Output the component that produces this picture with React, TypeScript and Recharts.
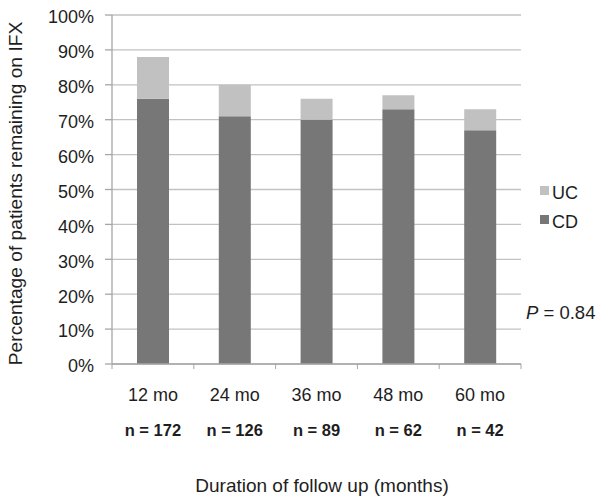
import React from 'react';
import { BarChart, Bar, XAxis, YAxis, CartesianGrid, Legend, Label } from 'recharts';

const categories = ['12 mo', '24 mo', '36 mo', '48 mo', '60 mo'];
const sampleSizes = ['n = 172', 'n = 126', 'n = 89', 'n = 62', 'n = 42'];
const cdValues = [76, 71, 70, 73, 67];
const ucValues = [12, 9, 6, 4, 6];
const yTicks = [0, 10, 20, 30, 40, 50, 60, 70, 80, 90, 100];

const data = categories.map((c, i) => ({ name: c, CD: cdValues[i], UC: ucValues[i] }));

const FONT = "'Liberation Sans', Arial, sans-serif";
const TEXT = '#1e1e1e';
const GRID = '#c2c2c2';
const AXIS = '#a6a6a6';
const CD_COLOR = '#777777';
const UC_COLOR = '#c1c1c1';

const XTick = (props: any) => {
  const { x, y, payload, index, width } = props;
  const band = (typeof width === 'number' && width > 0 ? width : 409) / categories.length;
  return (
    <g>
      <line x1={x - band / 2} x2={x - band / 2} y1={y} y2={y + 5} stroke={AXIS} strokeWidth={1} />
      {index === categories.length - 1 && (
        <line x1={x + band / 2} x2={x + band / 2} y1={y} y2={y + 5} stroke={AXIS} strokeWidth={1} />
      )}
      <text x={x} y={y + 36.7} textAnchor="middle" fontSize={18} fontFamily={FONT} fill={TEXT}>
        {payload.value}
      </text>
      <text x={x} y={y + 72} textAnchor="middle" fontSize={16.5} fontWeight="bold" fontFamily={FONT} fill={TEXT}>
        {sampleSizes[index]}
      </text>
    </g>
  );
};

const XTitle = (props: any) => {
  const vb = props.viewBox || {};
  const cx = vb.x + vb.width / 2 + 5.5;
  const by = vb.y + vb.height - 5;
  return (
    <text x={cx} y={by} textAnchor="middle" fontSize={19} fontFamily={FONT} fill={TEXT}>
      Duration of follow up (months)
    </text>
  );
};

const YTitle = (props: any) => {
  const vb = props.viewBox || {};
  const bx = vb.x + 14;
  const cy = vb.y + vb.height / 2 + 4;
  return (
    <text
      x={bx}
      y={cy}
      textAnchor="middle"
      fontSize={19.2}
      fontFamily={FONT}
      fill={TEXT}
      transform={`rotate(-90, ${bx}, ${cy})`}
    >
      Percentage of patients remaining on IFX
    </text>
  );
};

const LegendContent = (props: any) => {
  const items = [...(props.payload || [])].reverse();
  return (
    <div style={{ fontFamily: FONT, fontSize: 18, color: TEXT }}>
      {items.map((it: any) => (
        <div key={it.value} style={{ display: 'flex', alignItems: 'center', height: 29 }}>
          <span style={{ display: 'inline-block', width: 8.5, height: 8.5, background: it.color, marginRight: 3.5, marginTop: -4 }} />
          <span style={{ lineHeight: '20px' }}>{it.value}</span>
        </div>
      ))}
    </div>
  );
};

export default function App() {
  return (
    <div style={{ position: 'relative', width: 596, height: 489 }}>
      <BarChart
        width={596}
        height={489}
        data={data}
        margin={{ top: 7, right: 23, bottom: 0, left: 0 }}
      >
        <CartesianGrid vertical={false} stroke={GRID} strokeWidth={1.3} />
        <XAxis
          dataKey="name"
          height={133}
          tickLine={false}
          tickSize={0}
          tickMargin={0}
          axisLine={{ stroke: AXIS, strokeWidth: 1.3 }}
          tick={<XTick />}
          interval={0}
        >
          <Label content={<XTitle />} />
        </XAxis>
        <YAxis
          width={104}
          domain={[0, 100]}
          ticks={yTicks}
          interval={0}
          tickFormatter={(v: number) => `${v}%`}
          tickSize={7}
          tickMargin={11}
          tickLine={{ stroke: AXIS, strokeWidth: 1.3 }}
          axisLine={{ stroke: AXIS, strokeWidth: 1.3 }}
          tick={{ fontSize: 18, fontFamily: FONT, fill: TEXT, dy: 2 }}
        >
          <Label content={<YTitle />} />
        </YAxis>
        <Legend
          layout="vertical"
          align="right"
          verticalAlign="top"
          width={60}
          wrapperStyle={{ left: 532, top: 170, width: 60 }}
          content={<LegendContent />}
        />
        <Bar dataKey="CD" stackId="a" fill={CD_COLOR} barSize={32} isAnimationActive={false} />
        <Bar dataKey="UC" stackId="a" fill={UC_COLOR} barSize={32} isAnimationActive={false} />
      </BarChart>
      <div
        style={{
          position: 'absolute',
          left: 518,
          top: 294,
          fontFamily: FONT,
          fontSize: 18.5,
          color: TEXT,
          whiteSpace: 'nowrap',
        }}
      >
        <i>P</i> = 0.84
      </div>
    </div>
  );
}
